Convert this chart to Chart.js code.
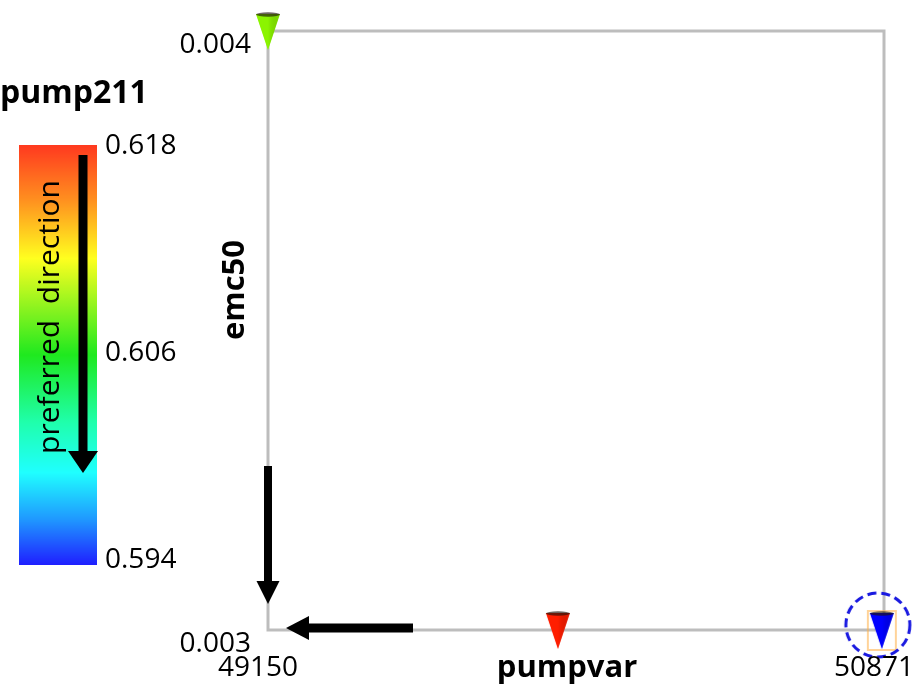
<!DOCTYPE html>
<html>
<head>
<meta charset="utf-8">
<script src="https://cdn.jsdelivr.net/npm/chart.js@4"></script>
<style>
  html, body { margin: 0; padding: 0; background: #fff; }
  #wrap { width: 923px; height: 685px; position: relative; }
</style>
</head>
<body>
<div id="wrap"><canvas id="c"></canvas></div>
<script>
// data
const pumpvar = [49150, 49960, 50865];
const emc50 = [0.004, 0.003, 0.003];
const pump211 = [0.609, 0.618, 0.594];
const selected = [false, false, true];

const xTicks = [49150, 50871];
const yTicks = [0.003, 0.004];
const colorTicks = [0.618, 0.606, 0.594];
const colorMin = 0.594, colorMax = 0.618;

// colormap, top (max) to bottom (min)
const cmapStops = [
    [0.00, [255, 30, 0]],
    [0.13, [255, 128, 0]],
    [0.27, [255, 255, 0]],
    [0.50, [0, 230, 0]],
    [0.66, [0, 255, 160]],
    [0.78, [0, 255, 255]],
    [0.89, [0, 140, 255]],
    [1.00, [0, 0, 255]]
];

function colorFor(v) {
    let t = (colorMax - v) / (colorMax - colorMin);
    t = Math.max(0, Math.min(1, t));
    for (let i = 1; i < cmapStops.length; i++) {
        const [t1, c1] = cmapStops[i];
        const [t0, c0] = cmapStops[i - 1];
        if (t <= t1) {
            const f = (t - t0) / (t1 - t0);
            const c = c0.map((a, k) => Math.round(a + (c1[k] - a) * f));
            return `rgb(${c[0]},${c[1]},${c[2]})`;
        }
    }
    return 'rgb(0,0,255)';
}

// cone marker pointing down
function makeCone(color, withBox) {
    const w = 34, h = 44;
    const cv = document.createElement('canvas');
    cv.width = w; cv.height = h;
    const g = cv.getContext('2d');
    const cx = w / 2, top = 5, bot = h - 3, hw = 12;
    if (withBox) {
        g.strokeStyle = 'rgba(255,175,70,0.55)';
        g.lineWidth = 2;
        g.strokeRect(3, 3, w - 6, h - 5);
    }
    const grad = g.createLinearGradient(cx - hw, 0, cx + hw, 0);
    grad.addColorStop(0, color);
    grad.addColorStop(0.5, color);
    grad.addColorStop(1, 'rgba(0,0,0,0.25)');
    g.beginPath();
    g.moveTo(cx - hw, top);
    g.lineTo(cx + hw, top);
    g.lineTo(cx, bot);
    g.closePath();
    g.fillStyle = color;
    g.fill();
    g.fillStyle = grad;
    g.globalAlpha = 0.35;
    g.fill();
    g.globalAlpha = 1;
    g.beginPath();
    g.ellipse(cx, top + 0.5, hw, 2.2, 0, 0, Math.PI * 2);
    g.fillStyle = 'rgba(30,20,10,0.65)';
    g.fill();
    return cv;
}

function makeDashedCircle() {
    const s = 84;
    const cv = document.createElement('canvas');
    cv.width = s; cv.height = s;
    const g = cv.getContext('2d');
    g.strokeStyle = '#1a1ae0';
    g.lineWidth = 3;
    g.setLineDash([9, 5]);
    g.beginPath();
    g.arc(s / 2 - 4, s / 2 - 5, 32, 0, Math.PI * 2);
    g.stroke();
    return cv;
}

const points = pumpvar.map((x, i) => ({x: x, y: emc50[i]}));
const markerImages = pump211.map((v, i) => makeCone(colorFor(v), selected[i]));
const circlePoints = points.filter((p, i) => selected[i]);

const FONT = '"Open Sans", "DejaVu Sans", sans-serif';

function drawArrow(g, x0, y0, x1, y1, shaft, headW, headL) {
    const ang = Math.atan2(y1 - y0, x1 - x0);
    const len = Math.hypot(x1 - x0, y1 - y0);
    g.save();
    g.translate(x0, y0);
    g.rotate(ang);
    g.fillStyle = '#000';
    g.fillRect(0, -shaft / 2, len - headL, shaft);
    g.beginPath();
    g.moveTo(len, 0);
    g.lineTo(len - headL, -headW / 2);
    g.lineTo(len - headL, headW / 2);
    g.closePath();
    g.fill();
    g.restore();
}

const decorations = {
    id: 'decorations',
    beforeDatasetsDraw(chart) {
        const g = chart.ctx;
        const a = chart.chartArea;
        g.save();
        g.strokeStyle = '#bdbdbd';
        g.lineWidth = 3;
        g.strokeRect(a.left, a.top, a.right - a.left, a.bottom - a.top);
        g.restore();
    },
    afterDraw(chart) {
        const g = chart.ctx;
        const a = chart.chartArea;
        const xs = chart.scales.x, ys = chart.scales.y;
        g.save();

        // tick labels
        g.fillStyle = '#000';
        g.font = `28px ${FONT}`;
        g.textBaseline = 'middle';
        g.textAlign = 'right';
        yTicks.forEach(v => g.fillText(String(v), a.left - 17, ys.getPixelForValue(v) + 14));
        g.textAlign = 'center';
        xTicks.forEach(v => g.fillText(String(v), xs.getPixelForValue(v) - 10, a.bottom + 38));

        // axis titles
        g.font = `bold 31px ${FONT}`;
        g.fillText('pumpvar', 567, a.bottom + 38);
        g.save();
        g.translate(235, 290);
        g.rotate(-Math.PI / 2);
        g.fillText('emc50', 0, 0);
        g.restore();

        // preferred direction arrows
        drawArrow(g, a.left, 466, a.left, 604, 8, 23, 23);
        drawArrow(g, 413, 628, 286, 628, 9, 24, 23);

        // colour bar
        const bx = 19, by = 145, bw = 78, bh = 420;
        const lg = g.createLinearGradient(0, by, 0, by + bh);
        cmapStops.forEach(([t, c]) => lg.addColorStop(t, `rgb(${c[0]},${c[1]},${c[2]})`));
        g.fillStyle = lg;
        g.fillRect(bx, by, bw, bh);
        g.fillStyle = 'rgba(255,255,255,0.12)';
        g.fillRect(bx, by, bw, bh);

        g.fillStyle = '#000';
        g.font = `bold 32px ${FONT}`;
        g.textAlign = 'left';
        g.fillText('pump211', 0, 94);

        g.font = `28px ${FONT}`;
        colorTicks.forEach(v => {
            const y = by + (colorMax - v) / (colorMax - colorMin) * (bh - 6) + 1;
            g.fillText(v.toFixed(3), 105, y);
        });

        g.save();
        g.translate(50, 317);
        g.rotate(-Math.PI / 2);
        g.textAlign = 'center';
        g.font = `30px ${FONT}`;
        g.fillText('preferred  direction', 0, 0);
        g.restore();

        drawArrow(g, 83, 155, 83, 473, 9, 30, 22);
        g.restore();
    }
};

new Chart(document.getElementById('c'), {
    type: 'scatter',
    data: {
        datasets: [
            {
                label: 'designs',
                data: points,
                pointStyle: markerImages,
                pointRadius: 17,
                clip: false,
                order: 2
            },
            {
                label: 'selected',
                data: circlePoints,
                pointStyle: makeDashedCircle(),
                pointRadius: 42,
                clip: false,
                order: 1
            }
        ]
    },
    options: {
        responsive: true,
        maintainAspectRatio: false,
        animation: false,
        layout: {
            autoPadding: false,
            padding: {left: 268, top: 31, right: 39, bottom: 55}
        },
        plugins: {
            legend: {display: false},
            tooltip: {enabled: false}
        },
        scales: {
            x: {type: 'linear', min: 49150, max: 50871, display: false},
            y: {type: 'linear', min: 0.003, max: 0.004, display: false}
        }
    },
    plugins: [decorations]
});
</script>
</body>
</html>
